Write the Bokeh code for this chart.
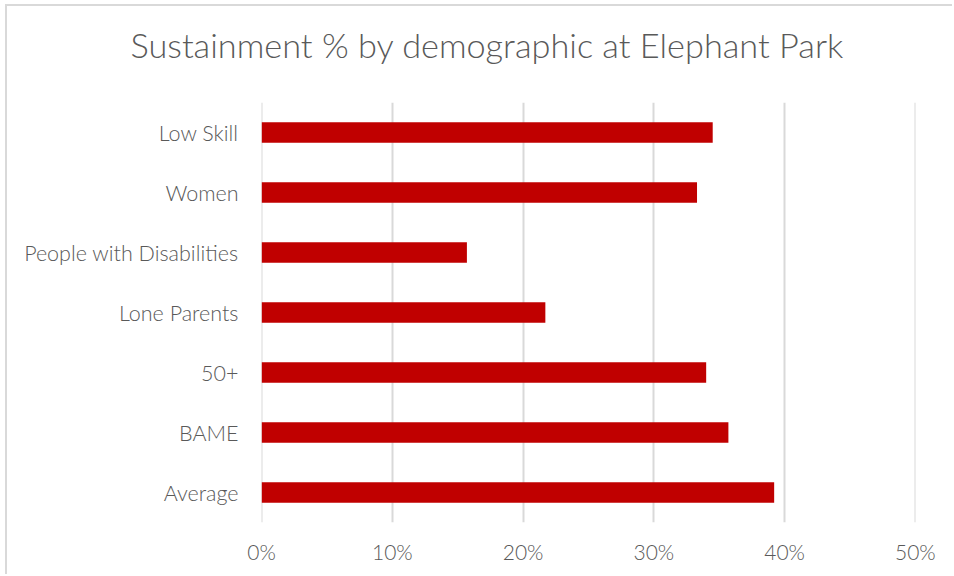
from bokeh.plotting import figure
from bokeh.models import FactorRange, Range1d, FixedTicker, NumeralTickFormatter, ColumnDataSource
from bokeh.embed import file_html
from bokeh.resources import INLINE

categories = ["Low Skill", "Women", "People with Disabilities", "Lone Parents", "50+", "BAME", "Average"]
values = [0.345, 0.333, 0.157, 0.217, 0.340, 0.357, 0.392]
tick_values = [0, 0.1, 0.2, 0.3, 0.4, 0.5]
title_text = "Sustainment % by demographic at Elephant Park"

FONT = "Lato Light"
TXT = "#595959"

src = ColumnDataSource(dict(cat=categories, val=values))

p = figure(width=947, height=570, output_backend="svg", toolbar_location=None,
           y_range=FactorRange(factors=list(reversed(categories)), range_padding=0),
           x_range=Range1d(-0.0001, 0.5001),
           title=title_text + "\n ",
           min_border_left=254, min_border_right=39, min_border_top=96, min_border_bottom=54)
p.styles = {"margin-left": "5px", "margin-top": "4px",
            "border-left": "2px solid #d9d9d9", "border-top": "2px solid #d9d9d9"}
p.hbar(y="cat", right="val", left=0, height=0.34, source=src, color="#C00000", line_color=None)

p.title.text_font = FONT
p.title.text_font_size = "34.3px"
p.title.text_font_style = "normal"
p.title.text_color = TXT
p.title.align = "left"
p.title.offset = -131
p.title.standoff = -6

p.outline_line_color = None
p.background_fill_color = "white"
p.border_fill_color = "white"

p.xaxis.ticker = FixedTicker(ticks=tick_values)
p.xaxis.formatter = NumeralTickFormatter(format="0%")
p.xaxis.axis_line_color = None
p.xaxis.major_tick_line_color = None
p.xaxis.minor_tick_line_color = None
p.xaxis.major_label_text_font = FONT
p.xaxis.major_label_text_font_size = "21px"
p.xaxis.major_label_text_color = TXT
p.xaxis.major_label_standoff = 10

p.yaxis.axis_line_color = None
p.yaxis.major_tick_line_color = None
p.yaxis.minor_tick_line_color = None
p.yaxis.major_label_text_font = FONT
p.yaxis.major_label_text_font_size = "21.5px"
p.yaxis.major_label_text_color = TXT
p.yaxis.major_label_standoff = 17

p.xgrid.grid_line_color = "#d9d9d9"
p.xgrid.grid_line_width = 2
p.ygrid.grid_line_color = None

open("out.html", "w").write(file_html(p, INLINE))
